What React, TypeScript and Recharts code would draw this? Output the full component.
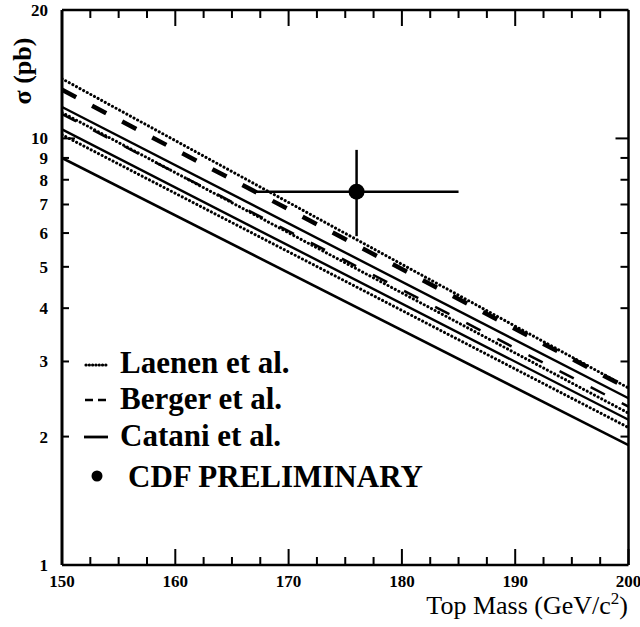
import React from 'react';
import {
  ComposedChart,
  Line,
  Scatter,
  ErrorBar,
  XAxis,
  YAxis,
  ReferenceLine,
} from 'recharts';

// endpoints of each theory curve read at m = 150 and m = 200
const masses = [150, 200];
const dottedTop = [13.8, 2.6];
const longDashTop = [13.0, 2.59];
const solidUpper = [11.85, 2.46];
const dottedMid = [11.5, 2.27];
const shortDashMid = [11.4, 2.35];
const solidMid = [10.5, 2.19];
const dottedLow = [10.2, 2.1];
const solidLow = [9.0, 1.91];

// CDF preliminary measurement
const cdfMass = 176;
const cdfSigma = 7.5;
const cdfMassErr = [9, 9];
const cdfSigmaErr = [1.6, 1.9];

const xTicks = [150, 152.5, 155, 157.5, 160, 162.5, 165, 167.5, 170, 172.5, 175, 177.5, 180, 182.5, 185, 187.5, 190, 192.5, 195, 197.5, 200];
const yTicks = [1, 2, 3, 4, 5, 6, 7, 8, 9, 10, 20];

const toSeries = (vals: number[]) => masses.map((m, i) => ({ m, v: vals[i] }));

const cdfData = [{ m: cdfMass, v: cdfSigma, ex: cdfMassErr, ey: cdfSigmaErr }];

const FONT = '"Liberation Serif", "Times New Roman", serif';

// plot box, follows from the chart margins and axis sizes below
const W = 640;
const H = 627;
const LEFT = 62;
const RIGHT = 628.5;
const TOP = 10;
const BOTTOM = 565;
const frameX = (m: number) => LEFT + ((m - 150) / 50) * (RIGHT - LEFT);
const frameY = (v: number) => BOTTOM - (Math.log10(v) / Math.log10(20)) * (BOTTOM - TOP);

const BottomTick = (props: any) => {
  const { x, y, payload } = props;
  const major = payload.value % 10 === 0;
  return (
    <g>
      <line x1={x} x2={x} y1={y} y2={y - (major ? 16 : 8)} stroke="#000" strokeWidth={2} />
      {major && (
        <text x={x} y={y + 22} textAnchor="middle" fontFamily={FONT} fontWeight="bold" fontSize={17} fill="#000">
          {payload.value}
        </text>
      )}
    </g>
  );
};

const LeftTick = (props: any) => {
  const { x, y, payload } = props;
  const major = payload.value === 10 || payload.value === 1;
  return (
    <g>
      <line x1={x} x2={x + (major ? 13 : 7)} y1={y} y2={y} stroke="#000" strokeWidth={2} />
      <text x={x - 14} y={y + 6} textAnchor="end" fontFamily={FONT} fontWeight="bold" fontSize={17} fill="#000">
        {payload.value}
      </text>
    </g>
  );
};

const CdfDot = (props: any) => <circle cx={props.cx} cy={props.cy} r={8} fill="#000" />;

const dotted = { strokeDasharray: '0.1 4', strokeLinecap: 'round' as const, strokeWidth: 3 };

export default function App() {
  return (
    <div style={{ position: 'absolute', left: 0, top: 0, width: W, height: H, background: '#fff' }}>
      <ComposedChart width={W} height={H} margin={{ top: TOP, right: W - RIGHT, bottom: 0, left: 0 }}>
        <XAxis
          xAxisId="b"
          dataKey="m"
          type="number"
          domain={[150, 200]}
          ticks={xTicks}
          interval={0}
          height={H - BOTTOM}
          tickSize={0}
          tickMargin={0}
          tickLine={false}
          axisLine={{ stroke: '#000', strokeWidth: 2.5 }}
          tick={<BottomTick />}
          allowDataOverflow
        />
        <YAxis
          yAxisId="l"
          dataKey="v"
          scale="log"
          type="number"
          domain={[1, 20]}
          ticks={yTicks}
          interval={0}
          width={LEFT}
          tickSize={0}
          tickMargin={0}
          tickLine={false}
          axisLine={{ stroke: '#000', strokeWidth: 3 }}
          tick={<LeftTick />}
          allowDataOverflow
        />

        {/* top and right edges of the frame */}
        <ReferenceLine xAxisId="b" yAxisId="l" y={20} stroke="#000" strokeWidth={2.5} ifOverflow="visible" />
        <ReferenceLine xAxisId="b" yAxisId="l" x={200} stroke="#000" strokeWidth={2.5} ifOverflow="visible" />

        <Line xAxisId="b" yAxisId="l" data={toSeries(dottedTop)} dataKey="v" stroke="#000" {...dotted} dot={false} isAnimationActive={false} />
        <Line xAxisId="b" yAxisId="l" data={toSeries(longDashTop)} dataKey="v" stroke="#000" strokeWidth={4.5} strokeDasharray="16 18" dot={false} isAnimationActive={false} />
        <Line xAxisId="b" yAxisId="l" data={toSeries(solidUpper)} dataKey="v" stroke="#000" strokeWidth={2.4} dot={false} isAnimationActive={false} />
        <Line xAxisId="b" yAxisId="l" data={toSeries(dottedMid)} dataKey="v" stroke="#000" {...dotted} dot={false} isAnimationActive={false} />
        <Line xAxisId="b" yAxisId="l" data={toSeries(shortDashMid)} dataKey="v" stroke="#000" strokeWidth={2.5} strokeDasharray="16 19" dot={false} isAnimationActive={false} />
        <Line xAxisId="b" yAxisId="l" data={toSeries(solidMid)} dataKey="v" stroke="#000" strokeWidth={2.4} dot={false} isAnimationActive={false} />
        <Line xAxisId="b" yAxisId="l" data={toSeries(dottedLow)} dataKey="v" stroke="#000" {...dotted} dot={false} isAnimationActive={false} />
        <Line xAxisId="b" yAxisId="l" data={toSeries(solidLow)} dataKey="v" stroke="#000" strokeWidth={2.6} dot={false} isAnimationActive={false} />

        <Scatter xAxisId="b" yAxisId="l" data={cdfData} dataKey="v" shape={<CdfDot />} isAnimationActive={false}>
          <ErrorBar dataKey="ex" direction="x" width={0} stroke="#000" strokeWidth={2.5} isAnimationActive={false} />
          <ErrorBar dataKey="ey" direction="y" width={0} stroke="#000" strokeWidth={2.5} isAnimationActive={false} />
        </Scatter>
      </ComposedChart>

      <svg width={W} height={H} style={{ position: 'absolute', left: 0, top: 0, pointerEvents: 'none' }}>
        {/* inward ticks mirrored on the top and right edges */}
        {xTicks.slice(1, -1).map((m) => (
          <line key={`tt${m}`} x1={frameX(m)} x2={frameX(m)} y1={TOP} y2={TOP + (m % 10 === 0 ? 16 : 8)} stroke="#000" strokeWidth={2} />
        ))}
        {yTicks.slice(1, -1).map((v) => (
          <line key={`rt${v}`} x1={RIGHT} x2={RIGHT - (v === 10 ? 13 : 8)} y1={frameY(v)} y2={frameY(v)} stroke="#000" strokeWidth={2} />
        ))}

        <text transform="translate(22 71) rotate(-90)" textAnchor="middle" dominantBaseline="central" fontFamily={FONT} fontWeight="bold" fontSize={26} fill="#000">
          σ (pb)
        </text>
        <text x={628} y={614} textAnchor="end" fontFamily={FONT} fontSize={26} fill="#000">
          Top Mass (GeV/c<tspan dy={-10} fontSize={17}>2</tspan><tspan dy={10}>)</tspan>
        </text>

        <line x1={86} x2={107} y1={365} y2={365} stroke="#000" strokeWidth={3.2} strokeDasharray="0.1 3.2" strokeLinecap="round" />
        <line x1={85} x2={106} y1={400} y2={400} stroke="#000" strokeWidth={2.5} strokeDasharray="8 5" />
        <line x1={84} x2={108} y1={437} y2={437} stroke="#000" strokeWidth={2.8} />
        <circle cx={97} cy={476} r={5.5} fill="#000" />

        <g fontFamily={FONT} fontWeight="bold" fontSize={31} fill="#000">
          <text x={120} y={373}>Laenen et al.</text>
          <text x={120} y={409}>Berger et al.</text>
          <text x={120} y={446}>Catani et al.</text>
          <text x={128} y={487}>CDF PRELIMINARY</text>
        </g>
      </svg>
    </div>
  );
}
